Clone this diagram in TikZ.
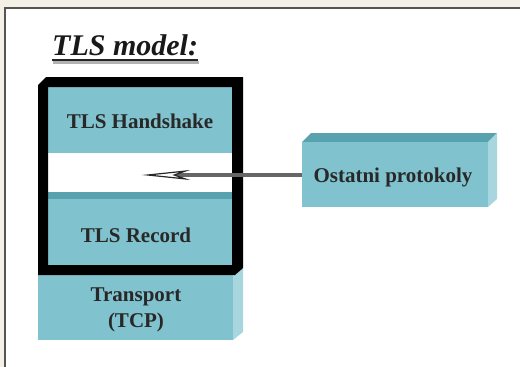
\documentclass[tikz,border=0pt]{standalone}
\usepackage{fontspec}
\setmainfont{Liberation Serif}
\newfontfamily\tms{Liberation Serif}
\usetikzlibrary{arrows.meta}
\definecolor{bgbeige}{RGB}{244,240,230}
\definecolor{framegray}{RGB}{85,85,85}
\definecolor{cyfront}{RGB}{128,194,206}
\definecolor{cytop}{RGB}{88,162,176}
\definecolor{cyside}{RGB}{168,214,223}
\definecolor{txt}{RGB}{40,40,40}
\tikzset{
  band/.style={fill=cyfront, draw=none, inner sep=0pt, anchor=north west},
  lbl/.style={font=\tms\bfseries\fontsize{21}{26}\selectfont, text=txt, align=center, inner sep=0pt},
  topface/.style={fill=cytop, draw=none},
  sideface/.style={fill=cyside, draw=none},
  conn/.style={draw=black!60, line width=3.5pt,
    -{Stealth[length=48pt,width=10pt,inset=14pt,fill=white,color=black!85,line width=1.2pt]}}
}
\begin{document}
\begin{tikzpicture}[x=1pt,y=-1pt]
\useasboundingbox (0,0) rectangle (520,367);
% background and panel
\fill[bgbeige] (0,0) rectangle (520,367);
\fill[white] (5,8) rectangle (525,372);
\draw[framegray, line width=1.5pt] (5,372) -- (5,8) -- (525,8);
% title
\node[font=\tms\bfseries\itshape\fontsize{30}{34}\selectfont, text=black!90, anchor=base west, inner sep=0pt] (title) at (52,55) {TLS model:};
\draw[black!30, line width=3pt] ([xshift=1pt,yshift=-7pt]title.base west) -- ([xshift=1pt,yshift=-7pt]title.base east);
\draw[black!85, line width=2pt] ([yshift=-5pt]title.base west) -- ([yshift=-5pt]title.base east);
% TLS stack bands
\node[band, minimum width=184pt, minimum height=66pt] (hs) at (48,87) {};
\node[fill=white, inner sep=0pt, anchor=north west, minimum width=184pt, minimum height=39pt] (gap) at (48,153) {};
\node[fill=cytop, inner sep=0pt, anchor=north west, minimum width=184pt, minimum height=7pt] (strip) at (48,192) {};
\node[band, minimum width=184pt, minimum height=66pt] (rec) at (48,199) {};
\node[lbl] (hstxt) at (140,121) {TLS Handshake};
\node[lbl] (rectxt) at (136,235) {TLS Record};
% transport
\node[band, minimum width=195pt, minimum height=65pt] (tr) at (38,275) {};
\fill[sideface] (233,275) -- (243,268) -- (243,332) -- (233,340) -- cycle;
\node[lbl] (trtxt) at (136,310) {Transport\\(TCP)};
% black frame
\fill[black, even odd rule] (38,85) -- (46,77) -- (243,77) -- (243,268) -- (235,275) -- (38,275) -- cycle
  (48,87) rectangle (232,265);
% other protocols box
\fill[topface] (302,142) -- (311,133) -- (497,133) -- (488,142) -- cycle;
\fill[sideface] (488,142) -- (497,133) -- (497,199) -- (488,207) -- cycle;
\node[band, minimum width=186pt, minimum height=65pt] (op) at (302,142) {};
\node[lbl] (optxt) at (393,177) {Ostatni protokoly};
% arrow
\coordinate (tip) at (142,175);
\draw[conn] (op.west |- tip) -- (tip);
\end{tikzpicture}
\end{document}
